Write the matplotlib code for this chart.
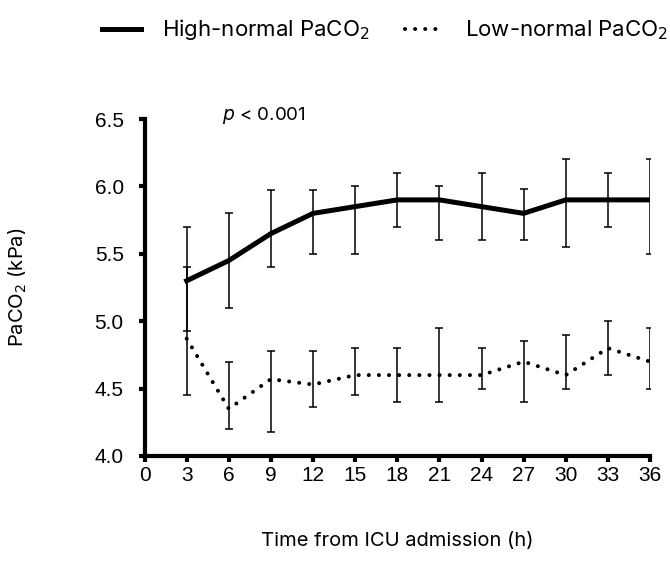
import matplotlib.pyplot as plt
from matplotlib.lines import Line2D

plt.rcParams['font.family'] = ['Liberation Sans', 'DejaVu Sans']
LABEL_FONT = ['Inter', 'DejaVu Sans']

# Hours after ICU admission
hours = [3, 6, 9, 12, 15, 18, 21, 24, 27, 30, 33, 36]

# High-normal PaCO2 group (kPa): centre value with upper/lower whisker ends
high_mid = [5.30, 5.45, 5.65, 5.80, 5.85, 5.90, 5.90, 5.85, 5.80, 5.90, 5.90, 5.90]
high_top = [5.70, 5.80, 5.97, 5.97, 6.00, 6.10, 6.00, 6.10, 5.98, 6.20, 6.10, 6.20]
high_bot = [4.93, 5.10, 5.40, 5.50, 5.50, 5.70, 5.60, 5.60, 5.60, 5.55, 5.70, 5.50]

# Low-normal PaCO2 group (kPa)
low_mid = [4.87, 4.35, 4.57, 4.53, 4.60, 4.60, 4.60, 4.60, 4.70, 4.60, 4.80, 4.70]
low_top = [5.40, 4.70, 4.78, 4.78, 4.80, 4.80, 4.95, 4.80, 4.85, 4.90, 5.00, 4.95]
low_bot = [4.45, 4.20, 4.18, 4.36, 4.45, 4.40, 4.40, 4.50, 4.40, 4.50, 4.60, 4.50]

x_ticks = list(range(0, 37, 3))
y_ticks = [4.0, 4.5, 5.0, 5.5, 6.0, 6.5]

DOT_LW = 2.9
DOTS = (0, (0.01, 2.5))

fig = plt.figure(figsize=(6.7, 5.78), dpi=100)
ax = fig.add_axes([0.2158, 0.2111, 0.7543, 0.583])


def whiskers(mid, top, bot):
    return [[m - b for m, b in zip(mid, bot)], [t - m for m, t in zip(mid, top)]]


ax.errorbar(hours, high_mid, yerr=whiskers(high_mid, high_top, high_bot),
            color='black', lw=3.6, elinewidth=1.1, capsize=3, capthick=1.1,
            zorder=3)
ax.errorbar(hours, low_mid, yerr=whiskers(low_mid, low_top, low_bot),
            color='black', lw=DOT_LW, ls=DOTS, dash_capstyle='round',
            elinewidth=1.1, capsize=3, capthick=1.1, zorder=3)

ax.set_xlim(0, 36)
ax.set_ylim(4.0, 6.5)
ax.set_xticks(x_ticks)
ax.set_yticks(y_ticks)
ax.set_yticklabels([f'{v:.1f}' for v in y_ticks])

for side in ('top', 'right'):
    ax.spines[side].set_visible(False)
for side in ('left', 'bottom'):
    ax.spines[side].set_linewidth(3)
    ax.spines[side].set_capstyle('projecting')
ax.tick_params(width=3, length=4, labelsize=15, colors='black')
ax.tick_params(axis='x', pad=3)
ax.tick_params(axis='y', pad=11)

ax.set_xlabel('Time from ICU admission (h)', fontsize=14.5, family=LABEL_FONT)
ax.xaxis.set_label_coords(0.5, -0.225)
ax.set_ylabel(r'PaCO$_2$ (kPa)', fontsize=14.5, family=LABEL_FONT)
ax.yaxis.set_label_coords(-0.228, 0.5)

ax.text(0.153, 1.009, r'$p$ < 0.001', transform=ax.transAxes, fontsize=13.5,
        family=LABEL_FONT, ha='left', va='center')

handles = [
    Line2D([], [], color='black', lw=3.6),
    Line2D([], [], color='black', lw=DOT_LW, ls=DOTS, dash_capstyle='round'),
]
fig.legend(handles, [r'High-normal PaCO$_2$', r'Low-normal PaCO$_2$'],
           loc='center right', bbox_to_anchor=(0.997, 1 - 30 / 578), ncol=2,
           frameon=False, borderpad=0, borderaxespad=0,
           prop={'family': LABEL_FONT, 'size': 16},
           handlelength=1.75, handletextpad=0.95, columnspacing=1.6)

fig.savefig('out.png', dpi=100)
